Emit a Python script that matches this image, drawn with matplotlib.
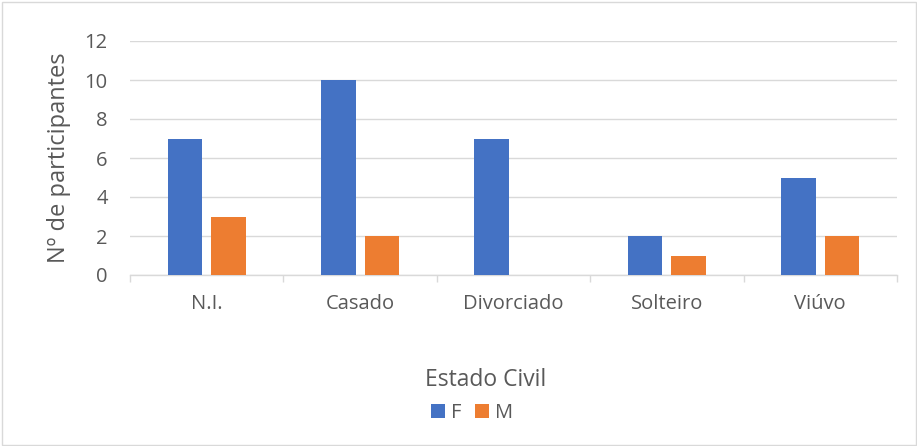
import matplotlib
matplotlib.use("Agg")
import matplotlib.pyplot as plt
from matplotlib.patches import Rectangle, Patch
import numpy as np

categories = ["N.I.", "Casado", "Divorciado", "Solteiro", "Viúvo"]
f_values = [7, 10, 7, 2, 5]
m_values = [3, 2, 0, 1, 2]
series_names = ["F", "M"]
y_ticks = [0, 2, 4, 6, 8, 10, 12]

BLUE = "#4472C4"
ORANGE = "#ED7D31"
TXT = "#595959"
GRID = "#D9D9D9"

plt.rcParams['font.family'] = ['Open Sans', 'DejaVu Sans']

W, H = 917, 446
fig = plt.figure(figsize=(W / 100, H / 100), dpi=100)
fig.patches.append(Rectangle((1.5 / W, 1.5 / H), 1 - 3 / W, 1 - 3 / H, transform=fig.transFigure,
                             fill=False, edgecolor="#D9D9D9", linewidth=1))

ax = fig.add_axes([130 / W, (H - 275) / H, 767 / W, (275 - 41) / H])
x = np.arange(len(categories))
bw = 0.226
ax.bar(x - 0.142, f_values, width=bw, color=BLUE, label=series_names[0], zorder=3)
ax.bar(x + 0.142, m_values, width=bw, color=ORANGE, label=series_names[1], zorder=3)

ax.set_xlim(-0.5, len(categories) - 0.5)
ax.set_ylim(0, 12)
ax.set_yticks(y_ticks)
ax.yaxis.grid(True, color=GRID, linewidth=1, zorder=0)
for s in ["top", "right", "left"]:
    ax.spines[s].set_visible(False)
ax.spines["bottom"].set_color(GRID)
ax.spines["bottom"].set_linewidth(1)

ax.set_xticks(np.arange(-0.5, len(categories)), minor=False)
ax.set_xticklabels([])
ax.tick_params(axis="x", which="major", length=5, color=GRID, width=1)
ax.set_xticks(x, minor=True)
ax.set_xticklabels(categories, minor=True)
ax.tick_params(axis="x", which="minor", length=0, pad=14, labelsize=14.5, labelcolor=TXT)
ax.tick_params(axis="y", length=0, pad=16, labelsize=14.5, labelcolor=TXT)

ax.set_ylabel("Nº de participantes", fontsize=17, color=TXT, labelpad=10)
fig.text(486 / W, 1 - 380 / H, "Estado Civil", ha="center", va="center",
         fontsize=16.5, color=TXT)

handles = [Patch(facecolor=BLUE), Patch(facecolor=ORANGE)]
leg = fig.legend(handles, series_names, loc="center", bbox_to_anchor=(472 / W, 1 - 413 / H),
                 ncol=2, frameon=False, fontsize=14.5, handlelength=0.66, handleheight=0.66,
                 handletextpad=0.3, columnspacing=0.7, borderpad=0, borderaxespad=0)
for t in leg.get_texts():
    t.set_color(TXT)

fig.savefig("out.png", dpi=100)
